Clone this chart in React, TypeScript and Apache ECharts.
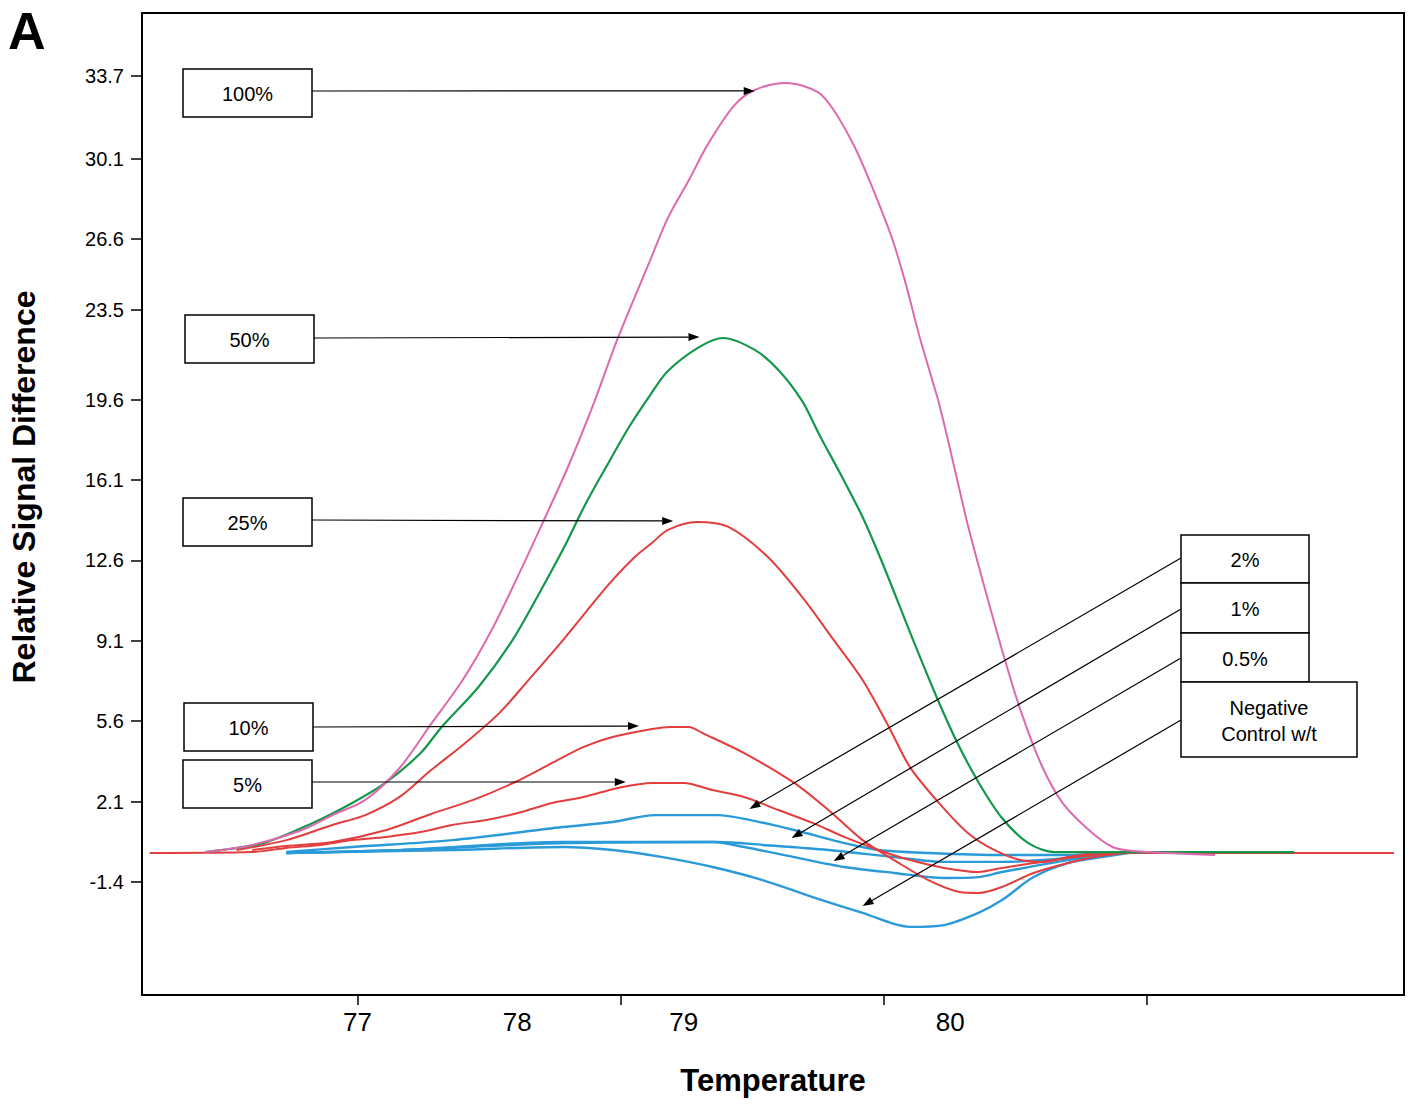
import React, { useEffect, useRef } from "react";
import * as echarts from "echarts";

// ---- Data (x = temperature axis units, y = relative signal difference) ----
const pct100: number[][] = [
  [76.42, -0.1], [76.6, 0.21], [76.79, 0.86], [76.905, 1.51], [77.03, 2.17], [77.16, 3.56],
  [77.28, 5.48], [77.4, 7.39], [77.51, 9.57], [77.61, 11.92], [77.7, 14.14], [77.8, 16.67],
  [77.9, 19.5], [77.99, 22.29], [78.11, 25.6], [78.18, 27.52], [78.26, 29.17], [78.33, 30.69],
  [78.43, 32.39], [78.51, 33.09], [78.63, 33.4], [78.75, 33.0], [78.81, 32.22], [78.89, 30.61],
  [78.95, 29.04], [79.03, 26.69], [79.08, 24.82], [79.14, 22.2], [79.21, 19.46], [79.264, 16.89],
  [79.32, 14.14], [79.378, 11.66], [79.45, 8.7], [79.52, 6.09], [79.6, 3.69], [79.68, 2.04],
  [79.78, 0.86], [79.87, 0.12], [79.95, -0.05], [80.26, -0.23],
];
const pct50: number[][] = [
  [76.42, -0.1], [76.64, 0.29], [76.83, 1.17], [76.98, 2.04], [77.11, 2.95], [77.24, 4.21],
  [77.32, 5.35], [77.46, 7.09], [77.59, 9.14], [77.7, 11.36], [77.79, 13.27], [77.865, 15.02],
  [77.956, 16.89], [78.03, 18.37], [78.11, 19.76], [78.18, 20.85], [78.3, 21.9], [78.39, 22.29],
  [78.51, 21.77], [78.6, 20.9], [78.69, 19.55], [78.76, 17.98], [78.84, 16.28], [78.92, 14.49],
  [79.0, 12.36], [79.1, 9.48], [79.19, 6.96], [79.275, 4.78], [79.36, 2.95], [79.45, 1.38],
  [79.55, 0.29], [79.65, -0.1], [80.56, -0.1],
];
const pct25: number[][] = [
  [76.54, -0.01], [76.73, 0.42], [76.905, 1.08], [77.03, 1.51], [77.16, 2.3], [77.28, 3.47],
  [77.41, 4.65], [77.54, 5.96], [77.65, 7.39], [77.766, 8.92], [77.865, 10.31], [77.956, 11.57],
  [78.054, 12.75], [78.119, 13.36], [78.18, 13.93], [78.29, 14.27], [78.41, 14.06], [78.56, 12.75],
  [78.69, 11.01], [78.81, 9.14], [78.92, 7.39], [79.02, 5.35], [79.1, 3.6], [79.21, 2.04],
  [79.32, 0.73], [79.42, -0.01], [79.52, -0.45], [79.61, -0.53], [79.7, -0.32], [79.8, -0.14],
];
const pct10: number[][] = [
  [76.6, -0.01], [76.73, 0.16], [76.905, 0.34], [77.11, 0.86], [77.28, 1.56], [77.44, 2.17],
  [77.6, 2.95], [77.74, 3.78], [77.86, 4.48], [77.97, 4.91], [78.12, 5.26], [78.19, 5.35],
  [78.26, 5.35], [78.31, 5.09], [78.47, 4.21], [78.66, 2.91], [78.79, 1.73], [78.92, 0.42],
  [79.04, -0.45], [79.17, -1.32], [79.29, -1.84], [79.36, -1.88], [79.45, -1.62], [79.57, -1.01],
  [79.7, -0.58], [79.8, -0.32], [79.91, -0.14],
];
const pct5: number[][] = [
  [76.21, -0.14], [76.6, -0.1], [76.73, 0.08], [76.86, 0.21], [76.98, 0.42], [77.11, 0.56],
  [77.24, 0.77], [77.36, 1.08], [77.49, 1.3], [77.61, 1.6], [77.74, 2.04], [77.86, 2.3],
  [77.99, 2.69], [78.12, 2.91], [78.24, 2.91], [78.35, 2.6], [78.47, 2.3], [78.6, 1.73],
  [78.73, 1.17], [78.85, 0.56], [78.98, -0.01], [79.1, -0.45], [79.23, -0.79], [79.36, -0.97],
  [79.45, -0.79], [79.57, -0.58], [79.7, -0.36], [79.83, -0.18], [79.95, -0.14], [80.94, -0.14],
];
const pct2: number[][] = [
  [76.73, -0.1], [76.98, 0.12], [77.36, 0.42], [77.78, 0.99], [77.97, 1.21], [78.13, 1.51],
  [78.37, 1.51], [78.49, 1.3], [78.66, 0.86], [78.85, 0.29], [78.98, -0.01], [79.17, -0.14],
  [79.45, -0.23], [79.7, -0.23], [79.83, -0.14],
];
const pct1: number[][] = [
  [76.73, -0.14], [77.17, -0.01], [77.78, 0.34], [78.37, 0.34], [78.54, 0.21], [78.79, -0.01],
  [79.04, -0.32], [79.23, -0.53], [79.45, -0.53], [79.7, -0.36], [79.86, -0.14],
];
const pct05: number[][] = [
  [76.73, -0.14], [77.17, -0.01], [77.78, 0.29], [78.35, 0.34], [78.47, 0.12], [78.66, -0.32],
  [78.85, -0.75], [79.04, -1.01], [79.23, -1.23], [79.36, -1.19], [79.45, -0.97], [79.7, -0.45],
  [79.87, -0.14],
];
const negControl: number[][] = [
  [76.73, -0.14], [77.36, -0.01], [77.78, 0.12], [77.97, -0.01], [78.16, -0.32], [78.35, -0.75],
  [78.54, -1.32], [78.73, -2.06], [78.92, -2.75], [79.1, -3.36], [79.23, -3.28], [79.36, -2.75],
  [79.45, -2.19], [79.57, -1.19], [79.7, -0.58], [79.83, -0.32], [79.93, -0.14],
];

// ---- Axes ----
const yTickValues = [33.7, 30.1, 26.6, 23.5, 19.6, 16.1, 12.6, 9.1, 5.6, 2.1, -1.4];
const xTickMarks = [77, 78, 79, 80];
const xTickLabels = ["77", "78", "79", "80"];
const xTickLabelAt = [77.0, 77.607, 78.24, 79.253];

// ---- Annotations: label text and the curve point each arrow designates ----
const annotationLabels = ["100%", "50%", "25%", "10%", "5%", "2%", "1%", "0.5%", "Negative\nControl w/t"];
const annotationTips: number[][] = [
  [78.51, 33.05], [78.3, 22.33], [78.2, 14.32], [78.07, 5.39], [78.02, 2.95],
  [78.49, 1.78], [78.65, 0.51], [78.81, -0.49], [78.92, -2.45],
];
// layout of the boxes (pixels): [x, y, w, h] and the arrow start point
const annotationBoxes: number[][] = [
  [183, 69, 129, 48], [185, 315, 129, 48], [183, 498, 129, 48], [184, 703, 129, 48], [183, 760, 129, 48],
  [1181, 535, 128, 48], [1181, 583, 128, 50], [1181, 633, 128, 49], [1181, 682, 176, 75],
];
const annotationFrom: number[][] = [
  [312, 91], [314, 338], [312, 520], [313, 727], [312, 782],
  [1181, 558], [1181, 609], [1181, 658], [1181, 720],
];

const FONT = "'Liberation Sans', Arial, Helvetica, sans-serif";
const PINK = "#DE6AAE";
const GREEN = "#15974B";
const RED = "#E23E3E";
const BLUE = "#2A9AD9";

function lineSeries(name: string, data: number[][], color: string, width: number) {
  return {
    name,
    type: "line",
    data,
    showSymbol: false,
    symbol: "none",
    smooth: 0.3,
    silent: true,
    lineStyle: { color, width },
    itemStyle: { color },
  };
}

export default function App() {
  const ref = useRef<HTMLDivElement>(null);

  useEffect(() => {
    if (!ref.current) return;
    const chart = echarts.init(ref.current, null, { renderer: "svg" });
    const option: any = {
      animation: false,
      backgroundColor: "#ffffff",
      grid: {
        left: 139,
        top: 13,
        width: 1265,
        height: 982,
        show: true,
        borderColor: "#000",
        borderWidth: 2,
        backgroundColor: "transparent",
      },
      xAxis: {
        type: "value",
        min: 76.181,
        max: 80.978,
        name: "Temperature",
        nameLocation: "middle",
        nameGap: 70,
        nameTextStyle: { fontFamily: FONT, fontWeight: "bold", fontSize: 31, color: "#000" },
        axisLine: { show: true, onZero: false, lineStyle: { color: "#000", width: 2 } },
        axisTick: { show: true, customValues: xTickMarks, length: 10, lineStyle: { color: "#000", width: 1.5 } },
        axisLabel: {
          show: true,
          customValues: xTickLabelAt,
          margin: 14,
          fontFamily: FONT,
          fontSize: 26,
          color: "#000",
          formatter: (v: number) => {
            let best = 0;
            for (let i = 1; i < xTickLabelAt.length; i++) {
              if (Math.abs(xTickLabelAt[i] - v) < Math.abs(xTickLabelAt[best] - v)) best = i;
            }
            return xTickLabels[best];
          },
        },
        splitLine: { show: false },
      },
      yAxis: {
        type: "value",
        min: -6.326,
        max: 36.444,
        name: "Relative Signal Difference",
        nameLocation: "middle",
        nameRotate: 90,
        nameGap: 102,
        nameTextStyle: { fontFamily: FONT, fontWeight: "bold", fontSize: 32, color: "#000", padding: [0, 0, 0, 34] },
        axisLine: { show: true, onZero: false, lineStyle: { color: "#000", width: 2 } },
        axisTick: { show: true, customValues: yTickValues, length: 11, lineStyle: { color: "#000", width: 1.5 } },
        axisLabel: {
          show: true,
          customValues: yTickValues,
          margin: 18,
          fontFamily: FONT,
          fontSize: 20,
          color: "#000",
          formatter: (v: number) => v.toFixed(1),
        },
        splitLine: { show: false },
      },
      series: [
        lineSeries("Negative Control w/t", negControl, BLUE, 2.4),
        lineSeries("0.5%", pct05, BLUE, 2.4),
        lineSeries("1%", pct1, BLUE, 2.4),
        lineSeries("2%", pct2, BLUE, 2.4),
        lineSeries("5%", pct5, RED, 2),
        lineSeries("10%", pct10, RED, 2),
        lineSeries("25%", pct25, RED, 2),
        lineSeries("50%", pct50, GREEN, 2.2),
        lineSeries("100%", pct100, PINK, 2),
      ],
    };
    chart.setOption(option);

    const graphics: any[] = [
      {
        type: "text",
        x: 8,
        y: 31,
        z: 100,
        style: {
          text: "A",
          fontFamily: FONT,
          fontWeight: "bold",
          fontSize: 52,
          fill: "#000",
          textAlign: "left",
          textVerticalAlign: "middle",
        },
      },
    ];

    annotationLabels.forEach((label, i) => {
      const [bx, by, bw, bh] = annotationBoxes[i];
      const [fx, fy] = annotationFrom[i];
      const tip = chart.convertToPixel({ gridIndex: 0 }, annotationTips[i]) as number[];
      const [tx, ty] = tip;
      const ang = Math.atan2(ty - fy, tx - fx);
      const headLen = 11;
      const hw = 4;
      const cx = tx - headLen * Math.cos(ang);
      const cy = ty - headLen * Math.sin(ang);
      const nx = -Math.sin(ang);
      const ny = Math.cos(ang);
      graphics.push({
        type: "line",
        z: 100,
        shape: { x1: fx, y1: fy, x2: cx, y2: cy },
        style: { stroke: "#000", lineWidth: 1.2 },
      });
      graphics.push({
        type: "polygon",
        z: 100,
        shape: { points: [[tx, ty], [cx + hw * nx, cy + hw * ny], [cx - hw * nx, cy - hw * ny]] },
        style: { fill: "#000" },
      });
      graphics.push({
        type: "rect",
        z: 101,
        shape: { x: bx, y: by, width: bw, height: bh },
        style: { fill: "#fff", stroke: "#000", lineWidth: 1.5 },
      });
      graphics.push({
        type: "text",
        z: 102,
        x: bx + bw / 2,
        y: by + bh / 2 + 1,
        style: {
          text: label,
          fontFamily: FONT,
          fontSize: 20,
          lineHeight: 26,
          fill: "#000",
          textAlign: "center",
          textVerticalAlign: "middle",
        },
      });
    });

    chart.setOption({ graphic: graphics });

    return () => {
      chart.dispose();
    };
  }, []);

  return (
    <div
      ref={ref}
      style={{ position: "fixed", left: 0, top: 0, width: 1419, height: 1111, background: "#fff" }}
    />
  );
}
